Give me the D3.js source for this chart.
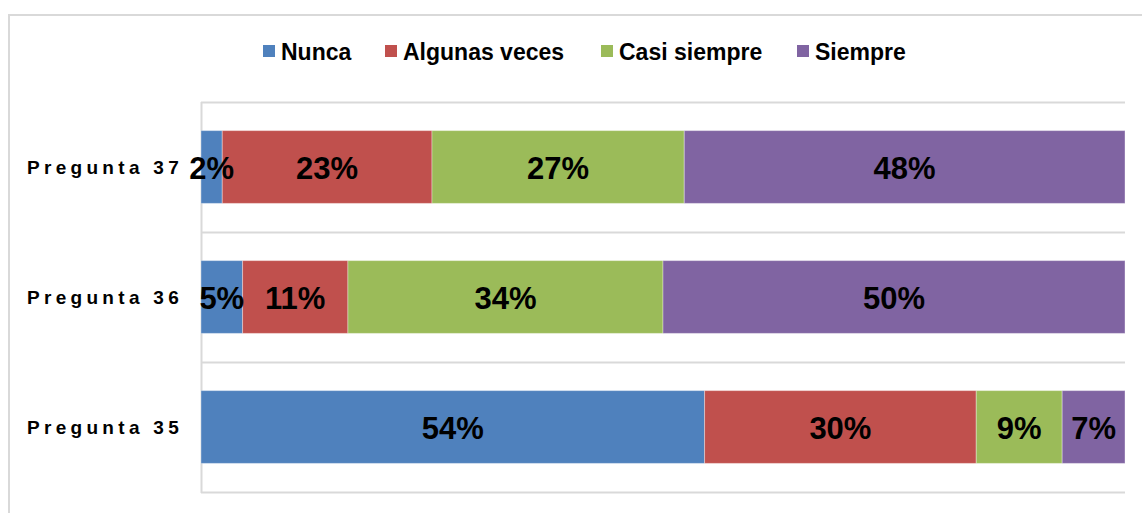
<!DOCTYPE html>
<html>
<head>
<meta charset="utf-8">
<script src="https://cdn.jsdelivr.net/npm/d3@7"></script>
<style>
  html, body { margin: 0; padding: 0; background: #fff; }
  svg { display: block; font-family: Arial, "Liberation Sans", sans-serif; }
</style>
</head>
<body>
<svg id="grafico" width="1142" height="513"></svg>
<script>
const preguntas = ["Pregunta 37", "Pregunta 36", "Pregunta 35"];
const series = ["Nunca", "Algunas veces", "Casi siempre", "Siempre"];
const colores = ["#4f81bd", "#c0504d", "#9bbb59", "#8064a2"];

// fracción de cada respuesta
const nunca        = [0.023, 0.045, 0.545];
const algunasVeces = [0.227, 0.114, 0.294];
const casiSiempre  = [0.273, 0.341, 0.093];
const siempre      = [0.477, 0.500, 0.068];

// etiquetas tal como aparecen en las barras
const etiquetasNunca   = ["2%", "5%", "54%"];
const etiquetasAlgunas = ["23%", "11%", "30%"];
const etiquetasCasi    = ["27%", "34%", "9%"];
const etiquetasSiempre = ["48%", "50%", "7%"];

const valores = [nunca, algunasVeces, casiSiempre, siempre];
const etiquetas = [etiquetasNunca, etiquetasAlgunas, etiquetasCasi, etiquetasSiempre];

const filas = preguntas.map((p, i) => {
  const fila = { pregunta: p };
  series.forEach((s, j) => { fila[s] = valores[j][i]; });
  return fila;
});

const svg = d3.select("#grafico");
const gris = "#d9d9d9";

// marco exterior
svg.append("path")
  .attr("d", "M9,513 V15 H1142")
  .attr("fill", "none")
  .attr("stroke", gris)
  .attr("stroke-width", 2);

const x = d3.scaleLinear().domain([0, 1]).range([201, 1125]);
const y = d3.scaleBand().domain(preguntas).range([102, 492])
  .paddingInner(0.44).paddingOuter(0.22);

// líneas de cuadrícula entre categorías
const limites = [102].concat(preguntas.map((p, i) => 102 + y.step() * (i + 1)));
svg.append("g")
  .selectAll("line")
  .data(limites)
  .join("line")
  .attr("x1", x(0))
  .attr("x2", x(1))
  .attr("y1", (d) => d + 0.5)
  .attr("y2", (d) => d + 0.5)
  .attr("stroke", gris)
  .attr("stroke-width", 2);

svg.append("line")
  .attr("x1", x(0) + 0.5).attr("x2", x(0) + 0.5)
  .attr("y1", 102).attr("y2", 493)
  .attr("stroke", gris)
  .attr("stroke-width", 2);

const pila = d3.stack().keys(series)(filas);

svg.append("g")
  .selectAll("g")
  .data(pila)
  .join("g")
  .attr("fill", (d, i) => colores[i])
  .selectAll("rect")
  .data((d) => d)
  .join("rect")
  .attr("x", (d) => x(d[0]))
  .attr("y", (d) => y(d.data.pregunta))
  .attr("width", (d) => x(d[1]) - x(d[0]))
  .attr("height", y.bandwidth())
  .attr("stroke", "rgba(255,255,255,0.35)")
  .attr("stroke-width", 1);

// etiquetas de datos encima de todas las barras
svg.append("g")
  .selectAll("g")
  .data(pila)
  .join("g")
  .selectAll("text")
  .data((d, i) => d.map((seg, k) => ({ seg, texto: etiquetas[i][k] })))
  .join("text")
  .attr("x", (d) => (x(d.seg[0]) + x(d.seg[1])) / 2)
  .attr("y", (d) => y(d.seg.data.pregunta) + y.bandwidth() / 2)
  .attr("dy", "0.38em")
  .attr("text-anchor", "middle")
  .attr("fill", "#000")
  .attr("font-size", "31px")
  .attr("font-weight", "bold")
  .text((d) => d.texto);

// etiquetas de categoría
svg.append("g")
  .selectAll("text")
  .data(preguntas)
  .join("text")
  .attr("x", 27)
  .attr("y", (d) => y(d) + y.bandwidth() / 2)
  .attr("dy", "0.38em")
  .attr("font-size", "19px")
  .attr("font-weight", "bold")
  .attr("letter-spacing", "4.3px")
  .attr("fill", "#000")
  .text((d) => d);

// leyenda
const posLeyenda = [263, 385, 601, 797];
const leyenda = svg.append("g")
  .selectAll("g")
  .data(series)
  .join("g")
  .attr("transform", (d, i) => `translate(${posLeyenda[i]},45)`);

leyenda.append("rect")
  .attr("width", 12)
  .attr("height", 12)
  .attr("fill", (d, i) => colores[i]);

leyenda.append("text")
  .attr("x", 18)
  .attr("y", 6)
  .attr("dy", "0.38em")
  .attr("font-size", "23px")
  .attr("font-weight", "bold")
  .attr("fill", "#000")
  .text((d) => d);
</script>
</body>
</html>
